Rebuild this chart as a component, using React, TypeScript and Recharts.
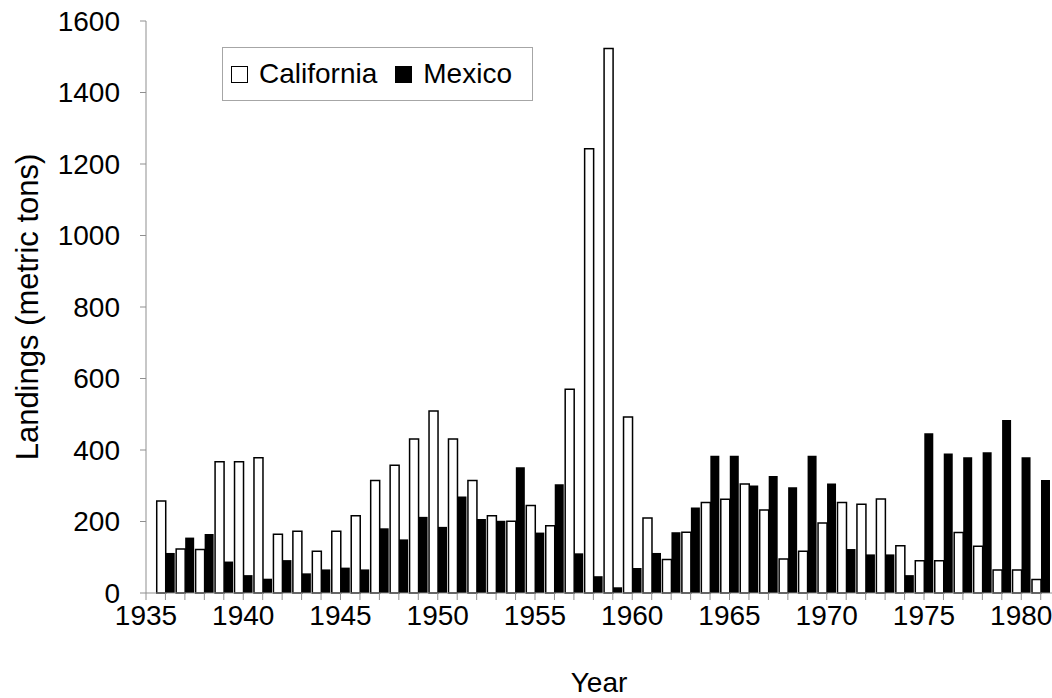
import React from 'react';
import { BarChart, Bar, XAxis, YAxis, Legend, Label } from 'recharts';

const years = [
  1936, 1937, 1938, 1939, 1940, 1941, 1942, 1943, 1944, 1945, 1946, 1947,
  1948, 1949, 1950, 1951, 1952, 1953, 1954, 1955, 1956, 1957, 1958, 1959,
  1960, 1961, 1962, 1963, 1964, 1965, 1966, 1967, 1968, 1969, 1970, 1971,
  1972, 1973, 1974, 1975, 1976, 1977, 1978, 1979, 1980, 1981,
];

const california = [
  257, 123, 122, 367, 367, 378, 164, 173, 117, 173, 216, 315,
  357, 431, 509, 431, 315, 216, 201, 245, 188, 570, 1243, 1523,
  492, 210, 94, 170, 253, 262, 305, 232, 95, 117, 196, 253,
  248, 263, 132, 90, 90, 169, 131, 64, 64, 38,
];

const mexico = [
  112, 155, 165, 88, 50, 40, 92, 55, 66, 71, 66, 181,
  150, 213, 185, 270, 207, 202, 352, 169, 304, 111, 47, 16,
  70, 112, 170, 239, 384, 384, 301, 327, 296, 384, 306, 123,
  108, 108, 50, 447, 390, 380, 394, 484, 380, 316,
];

const xTicks = [
  1935, 1936, 1937, 1938, 1939, 1940, 1941, 1942, 1943, 1944, 1945, 1946,
  1947, 1948, 1949, 1950, 1951, 1952, 1953, 1954, 1955, 1956, 1957, 1958,
  1959, 1960, 1961, 1962, 1963, 1964, 1965, 1966, 1967, 1968, 1969, 1970,
  1971, 1972, 1973, 1974, 1975, 1976, 1977, 1978, 1979, 1980, 1981,
];

const yTicks = [0, 200, 400, 600, 800, 1000, 1200, 1400, 1600];

const data = years.map((year, i) => ({
  year,
  California: california[i],
  Mexico: mexico[i],
}));

const font = '"Liberation Sans", Arial, sans-serif';
const axisGray = '#8f8f8f';
const swatch: Record<string, string> = { California: '#fff', Mexico: '#000' };

const renderLegend = (props: any) => {
  const items = props.payload || [];
  return (
    <div
      style={{
        boxSizing: 'border-box',
        width: 311,
        height: 54,
        border: '1px solid #a6a6a6',
        background: '#fff',
        display: 'flex',
        alignItems: 'center',
        paddingLeft: 8,
        fontFamily: font,
        fontSize: 28,
        color: '#000',
      }}
    >
      {items.map((entry: any) => (
        <span
          key={entry.value}
          style={{ display: 'inline-flex', alignItems: 'center', marginRight: 18 }}
        >
          <span
            style={{
              display: 'inline-block',
              boxSizing: 'border-box',
              width: 17,
              height: 17,
              border: '1.5px solid #000',
              background: swatch[entry.value],
              marginRight: 11,
            }}
          />
          {entry.value}
        </span>
      ))}
    </div>
  );
};

export default function App() {
  return (
    <div style={{ position: 'absolute', left: 0, top: 0, background: '#fff', fontFamily: font }}>
      <BarChart
        width={1052}
        height={698}
        data={data}
        margin={{ top: 21, right: 0, bottom: 0, left: 0 }}
        barGap={0}
      >
        <XAxis
          dataKey='year'
          type='number'
          domain={[1935, 1981.58]}
          allowDataOverflow
          ticks={xTicks}
          interval={0}
          tickFormatter={(v: number) => (v % 5 === 0 ? String(v) : '')}
          height={105}
          tickSize={7}
          tickMargin={5}
          stroke={axisGray}
          tick={{ fill: '#000', fontSize: 28, fontFamily: font }}
        >
          <Label
            value='Year'
            position='insideBottom'
            offset={6}
            style={{ fill: '#000', fontSize: 28, fontFamily: font }}
          />
        </XAxis>
        <YAxis
          domain={[0, 1600]}
          ticks={yTicks}
          interval={0}
          width={146}
          tickSize={6}
          tickMargin={20}
          stroke={axisGray}
          tick={{ fill: '#000', fontSize: 28, fontFamily: font }}
        >
          <Label
            value='Landings (metric tons)'
            angle={-90}
            position='insideLeft'
            offset={27}
            style={{ fill: '#000', fontSize: 31, fontFamily: font, textAnchor: 'middle' }}
          />
        </YAxis>
        <Legend
          layout='horizontal'
          verticalAlign='middle'
          align='center'
          width={311}
          height={54}
          wrapperStyle={{ left: 222, top: 47, width: 311, height: 54 }}
          content={renderLegend}
        />
        <Bar
          dataKey='California'
          fill='#fff'
          stroke='#000'
          strokeWidth={1.5}
          barSize={9}
          isAnimationActive={false}
        />
        <Bar dataKey='Mexico' fill='#000' barSize={9} isAnimationActive={false} />
      </BarChart>
    </div>
  );
}
